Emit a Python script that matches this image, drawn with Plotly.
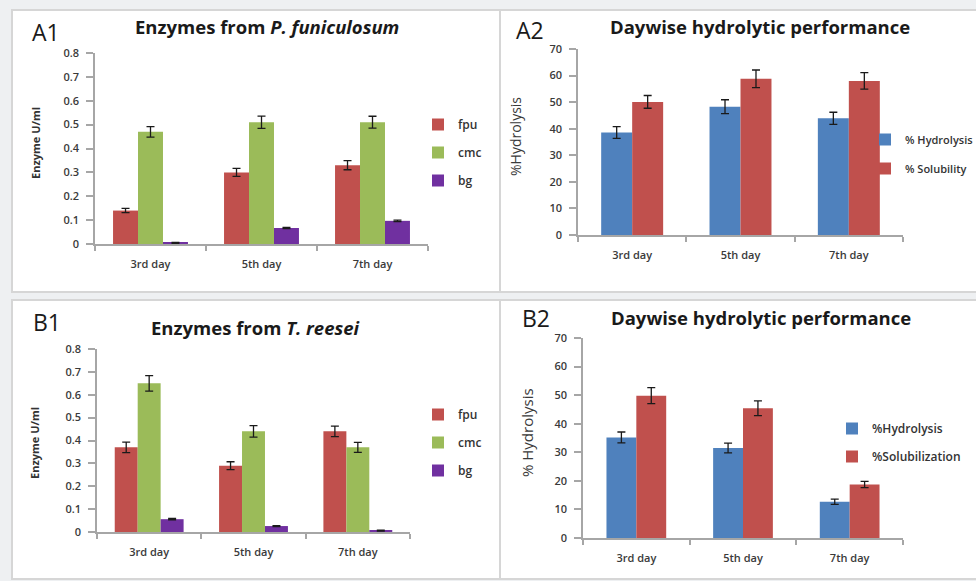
import plotly.graph_objects as go

W, H = 976, 581

days = ["3rd day", "5th day", "7th day"]

# A1: Enzymes from P. funiculosum
a1_fpu = [0.14, 0.30, 0.33]
a1_fpu_err = [0.009, 0.017, 0.019]
a1_cmc = [0.47, 0.51, 0.51]
a1_cmc_err = [0.022, 0.026, 0.025]
a1_bg = [0.005, 0.067, 0.097]
a1_bg_err = [0.002, 0.003, 0.003]

# A2: Daywise hydrolytic performance
a2_hyd = [38.6, 48.3, 43.9]
a2_hyd_err = [2.2, 2.6, 2.3]
a2_sol = [50.1, 58.8, 58.0]
a2_sol_err = [2.4, 3.3, 3.1]

# B1: Enzymes from T. reesei
b1_fpu = [0.37, 0.29, 0.44]
b1_fpu_err = [0.023, 0.017, 0.023]
b1_cmc = [0.65, 0.44, 0.37]
b1_cmc_err = [0.034, 0.025, 0.022]
b1_bg = [0.056, 0.026, 0.006]
b1_bg_err = [0.003, 0.002, 0.002]

# B2: Daywise hydrolytic performance
b2_hyd = [35.2, 31.5, 12.7]
b2_hyd_err = [1.9, 1.7, 0.9]
b2_sol = [49.8, 45.4, 18.7]
b2_sol_err = [2.8, 2.6, 1.1]

RED = "#c0504d"
GREEN = "#9bbb59"
PURPLE = "#7030a0"
BLUE = "#4f81bd"
FONT = "Open Sans"
TICKC = "#3a3a3a"
AXC = "#a6a6a6"


def fx(px):
    return px / W


def fy(py):
    return 1 - py / H


fig = go.Figure()


def add_bar(name, y, err, color, xa, ya, legend, width, offset, group):
    fig.add_trace(go.Bar(
        x=days, y=y, name=name, marker=dict(color=color, line=dict(width=0)),
        width=width, offset=offset,
        error_y=dict(type="data", array=err, visible=True, color="#1a1a1a",
                     thickness=1.3, width=4),
        xaxis=xa, yaxis=ya, legend=legend, legendgroup=group,
    ))


wA1 = 0.225
add_bar("fpu", a1_fpu, a1_fpu_err, RED, "x", "y", "legend", wA1, -1.5 * wA1, "a1f")
add_bar("cmc", a1_cmc, a1_cmc_err, GREEN, "x", "y", "legend", wA1, -0.5 * wA1, "a1c")
add_bar("bg", a1_bg, a1_bg_err, PURPLE, "x", "y", "legend", wA1, 0.5 * wA1, "a1b")

wA2 = 0.286
add_bar("% Hydrolysis", a2_hyd, a2_hyd_err, BLUE, "x2", "y2", "legend2", wA2, -wA2, "a2h")
add_bar("% Solubility", a2_sol, a2_sol_err, RED, "x2", "y2", "legend2", wA2, 0, "a2s")

wB1 = 0.22
add_bar("fpu", b1_fpu, b1_fpu_err, RED, "x3", "y3", "legend3", wB1, -1.5 * wB1, "b1f")
add_bar("cmc", b1_cmc, b1_cmc_err, GREEN, "x3", "y3", "legend3", wB1, -0.5 * wB1, "b1c")
add_bar("bg", b1_bg, b1_bg_err, PURPLE, "x3", "y3", "legend3", wB1, 0.5 * wB1, "b1b")

wB2 = 0.28
add_bar("%Hydrolysis", b2_hyd, b2_hyd_err, BLUE, "x4", "y4", "legend4", wB2, -wB2, "b2h")
add_bar("%Solubilization", b2_sol, b2_sol_err, RED, "x4", "y4", "legend4", wB2, 0, "b2s")


def xaxis(dom, anchor):
    return dict(domain=[fx(dom[0]), fx(dom[1])], anchor=anchor, type="category",
                categoryorder="array", categoryarray=days, range=[-0.5, 2.5],
                showline=True, linecolor=AXC, linewidth=1.5, ticks="outside",
                tickson="boundaries", ticklen=5, tickcolor=AXC, tickwidth=1.5,
                showgrid=False, zeroline=False, ticklabelstandoff=9,
                tickfont=dict(family=FONT, size=11, color=TICKC, weight=600))


def yaxis(dom, anchor, rng, dt):
    return dict(domain=[fy(dom[1]), fy(dom[0])], anchor=anchor, range=rng, dtick=dt,
                tick0=0, showline=True, linecolor=AXC, linewidth=1.5, ticks="outside",
                ticklen=7, tickcolor=AXC, tickwidth=1.5, showgrid=False,
                zeroline=False, ticklabelstandoff=5,
                tickfont=dict(family=FONT, size=11, color=TICKC, weight=600))


def legend(x, y, gap, size=12):
    return dict(x=fx(x), y=fy(y), xanchor="left", yanchor="top",
                bgcolor="rgba(0,0,0,0)", tracegroupgap=gap, itemwidth=30,
                font=dict(family=FONT, size=size, color="#333333", weight=600))


shapes = []
BORDER = "#d6d6d6"
for (x0, y0, x1, y1) in [(12, 10, 500, 292), (500, 10, 980, 292),
                         (12, 300, 500, 579), (500, 300, 980, 579)]:
    shapes.append(dict(type="rect", xref="paper", yref="paper",
                       x0=fx(x0), x1=fx(x1), y0=fy(y1), y1=fy(y0),
                       fillcolor="white", line=dict(color=BORDER, width=2),
                       layer="below"))

annotations = []


def ann(text, x, y, size, bold=False, angle=0, color="#111111"):
    annotations.append(dict(text=text, x=fx(x), y=fy(y), xref="paper", yref="paper",
                            showarrow=False, xanchor="center", yanchor="middle",
                            textangle=angle,
                            font=dict(family=FONT, size=size, color=color,
                                      weight="bold" if bold else "normal")))


ann("A1", 46, 32, 23, color="#1a1a1a")
ann("Enzymes from <i>P. funiculosum</i>", 267, 27, 18.5, bold=True, color="#1a1a1a")
ann("Enzyme U/ml", 35, 143, 11, bold=True, angle=-90, color="#333333")

ann("A2", 530, 30, 23, color="#1a1a1a")
ann("Daywise hydrolytic performance", 760, 27, 18.5, bold=True, color="#1a1a1a")
ann("%Hydrolysis", 516, 137, 14, angle=-90, color="#3a3a3a")

ann("B1", 47, 322, 23, color="#1a1a1a")
ann("Enzymes from <i>T. reesei</i>", 255, 327, 18.5, bold=True, color="#1a1a1a")
ann("Enzyme U/ml", 35, 443, 11, bold=True, angle=-90, color="#333333")

ann("B2", 536, 318, 23, color="#1a1a1a")
ann("Daywise hydrolytic performance", 761, 317, 18.5, bold=True, color="#1a1a1a")
ann("% Hydrolysis", 527, 433, 15, angle=-90, color="#3a3a3a")

fig.update_layout(
    width=W, height=H, margin=dict(l=0, r=0, t=0, b=0, autoexpand=False),
    paper_bgcolor="#eef0f2", plot_bgcolor="rgba(0,0,0,0)",
    barmode="overlay", showlegend=True,
    xaxis=xaxis((95, 428), "y"),
    yaxis=yaxis((53, 244), "x", [0, 0.8], 0.1),
    xaxis2=xaxis((578, 903), "y2"),
    yaxis2=yaxis((49, 235), "x2", [0, 70], 10),
    xaxis3=xaxis((97, 410), "y3"),
    yaxis3=yaxis((349, 532), "x3", [0, 0.8], 0.1),
    xaxis4=xaxis((583, 903), "y4"),
    yaxis4=yaxis((338, 538), "x4", [0, 70], 10),
    legend=legend(418, 110, 9),
    legend2=legend(865, 125, 10, size=11),
    legend3=legend(418, 400, 9),
    legend4=legend(832, 414, 9),
    shapes=shapes, annotations=annotations,
)

fig.write_html(
    "out.html",
    config={"displayModeBar": False},
    post_script="document.body.style.margin='0';"
                "document.body.style.background='#eef0f2';",
)
